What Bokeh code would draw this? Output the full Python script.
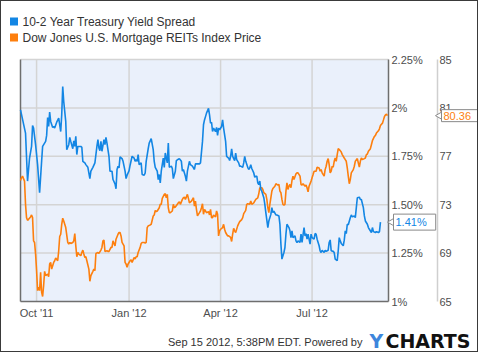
import math
import pandas as pd
from bokeh.plotting import figure
from bokeh.models import Range1d, Label
from bokeh.core.properties import value
from bokeh.embed import file_html
from bokeh.resources import INLINE

# ---------------- data ----------------
series_names = ["10-2 Year Treasury Yield Spread",
                "Dow Jones U.S. Mortgage REITs Index Price"]

spread_dates = [
    "2011-09-15", "2011-09-20", "2011-09-22", "2011-09-24", "2011-09-26", "2011-09-27", "2011-09-28", "2011-09-30",
    "2011-10-02", "2011-10-04", "2011-10-06", "2011-10-07", "2011-10-10", "2011-10-11", "2011-10-12", "2011-10-13",
    "2011-10-14", "2011-10-15", "2011-10-17", "2011-10-18", "2011-10-19", "2011-10-21", "2011-10-23", "2011-10-25",
    "2011-10-26", "2011-10-27", "2011-10-28", "2011-10-30", "2011-10-31", "2011-11-02", "2011-11-03", "2011-11-04",
    "2011-11-06", "2011-11-07", "2011-11-08", "2011-11-09", "2011-11-10", "2011-11-11", "2011-11-14", "2011-11-15",
    "2011-11-16", "2011-11-18", "2011-11-19", "2011-11-21", "2011-11-23", "2011-11-24", "2011-11-26", "2011-11-28",
    "2011-11-30", "2011-12-01", "2011-12-02", "2011-12-03", "2011-12-04", "2011-12-05", "2011-12-07", "2011-12-08",
    "2011-12-09", "2011-12-10", "2011-12-12", "2011-12-13", "2011-12-15", "2011-12-16", "2011-12-18", "2011-12-19",
    "2011-12-20", "2011-12-21", "2011-12-22", "2011-12-23", "2011-12-25", "2011-12-26", "2011-12-28", "2011-12-29",
    "2011-12-30", "2012-01-01", "2012-01-02", "2012-01-04", "2012-01-06", "2012-01-07", "2012-01-08", "2012-01-09",
    "2012-01-10", "2012-01-11", "2012-01-13", "2012-01-14", "2012-01-16", "2012-01-17", "2012-01-18", "2012-01-20",
    "2012-01-21", "2012-01-23", "2012-01-25", "2012-01-26", "2012-01-27", "2012-01-29", "2012-01-30", "2012-01-31",
    "2012-02-01", "2012-02-02", "2012-02-04", "2012-02-05", "2012-02-06", "2012-02-08", "2012-02-09", "2012-02-10",
    "2012-02-12", "2012-02-13", "2012-02-14", "2012-02-16", "2012-02-17", "2012-02-19", "2012-02-20", "2012-02-22",
    "2012-02-23", "2012-02-24", "2012-02-26", "2012-02-27", "2012-02-28", "2012-03-01", "2012-03-02", "2012-03-04",
    "2012-03-06", "2012-03-07", "2012-03-09", "2012-03-11", "2012-03-12", "2012-03-14", "2012-03-15", "2012-03-16",
    "2012-03-17", "2012-03-18", "2012-03-20", "2012-03-21", "2012-03-22", "2012-03-23", "2012-03-24", "2012-03-25",
    "2012-03-27", "2012-03-28", "2012-03-29", "2012-03-30", "2012-03-31", "2012-04-02", "2012-04-03", "2012-04-04",
    "2012-04-06", "2012-04-07", "2012-04-08", "2012-04-09", "2012-04-10", "2012-04-11", "2012-04-12", "2012-04-13",
    "2012-04-14", "2012-04-15", "2012-04-16", "2012-04-17", "2012-04-19", "2012-04-20", "2012-04-21", "2012-04-23",
    "2012-04-24", "2012-04-25", "2012-04-26", "2012-04-28", "2012-04-29", "2012-04-30", "2012-05-01", "2012-05-02",
    "2012-05-04", "2012-05-05", "2012-05-06", "2012-05-07", "2012-05-08", "2012-05-09", "2012-05-10", "2012-05-11",
    "2012-05-12", "2012-05-14", "2012-05-15", "2012-05-16", "2012-05-18", "2012-05-19", "2012-05-21", "2012-05-22",
    "2012-05-23", "2012-05-24", "2012-05-26", "2012-05-27", "2012-05-29", "2012-05-30", "2012-05-31", "2012-06-01",
    "2012-06-03", "2012-06-04", "2012-06-05", "2012-06-06", "2012-06-08", "2012-06-09", "2012-06-10", "2012-06-11",
    "2012-06-12", "2012-06-14", "2012-06-15", "2012-06-16", "2012-06-17", "2012-06-19", "2012-06-20", "2012-06-21",
    "2012-06-23", "2012-06-24", "2012-06-25", "2012-06-26", "2012-06-27", "2012-06-29", "2012-06-30", "2012-07-01",
    "2012-07-03", "2012-07-04", "2012-07-05", "2012-07-06", "2012-07-08", "2012-07-09", "2012-07-10", "2012-07-11",
    "2012-07-13", "2012-07-14", "2012-07-15", "2012-07-17", "2012-07-18", "2012-07-19", "2012-07-20", "2012-07-22",
    "2012-07-23", "2012-07-24", "2012-07-26", "2012-07-27", "2012-07-28", "2012-07-29", "2012-07-30", "2012-08-01",
    "2012-08-02", "2012-08-03", "2012-08-04", "2012-08-05", "2012-08-06", "2012-08-08", "2012-08-09", "2012-08-10",
    "2012-08-12", "2012-08-13", "2012-08-14", "2012-08-15", "2012-08-17", "2012-08-18", "2012-08-19", "2012-08-21",
    "2012-08-22", "2012-08-23", "2012-08-25", "2012-08-26", "2012-08-27", "2012-08-29", "2012-08-30", "2012-08-31",
    "2012-09-02", "2012-09-03", "2012-09-05", "2012-09-06", "2012-09-07",
]
spread_vals = [
    1.990, 1.870, 1.622, 1.741, 1.801, 1.909, 1.896, 1.810,
    1.707, 1.562, 1.724, 1.801, 1.827, 1.858, 1.950, 1.904,
    1.978, 1.930, 1.899, 1.904, 1.896, 1.926, 1.947, 1.878,
    1.964, 2.110, 2.033, 1.930, 1.784, 1.810, 1.848, 1.827,
    1.789, 1.830, 1.801, 1.853, 1.759, 1.801, 1.801, 1.796,
    1.724, 1.716, 1.707, 1.693, 1.635, 1.673, 1.693, 1.716,
    1.801, 1.836, 1.793, 1.779, 1.827, 1.776, 1.836, 1.810,
    1.848, 1.818, 1.750, 1.673, 1.673, 1.630, 1.608, 1.582,
    1.682, 1.699, 1.690, 1.747, 1.738, 1.724, 1.673, 1.635,
    1.652, 1.676, 1.704, 1.750, 1.741, 1.724, 1.733, 1.724,
    1.759, 1.707, 1.716, 1.656, 1.652, 1.664, 1.724, 1.789,
    1.818, 1.841, 1.784, 1.724, 1.693, 1.673, 1.630, 1.656,
    1.613, 1.673, 1.741, 1.693, 1.767, 1.716, 1.818, 1.693,
    1.699, 1.687, 1.635, 1.673, 1.728, 1.735, 1.738, 1.724,
    1.673, 1.682, 1.647, 1.622, 1.673, 1.724, 1.707, 1.699,
    1.682, 1.711, 1.711, 1.711, 1.716, 1.827, 1.913, 1.938,
    1.955, 1.973, 1.998, 1.964, 1.921, 1.926, 1.878, 1.896,
    1.878, 1.899, 1.858, 1.896, 1.887, 1.904, 1.938, 1.896,
    1.827, 1.750, 1.745, 1.741, 1.728, 1.750, 1.789, 1.750,
    1.738, 1.728, 1.767, 1.733, 1.716, 1.699, 1.699, 1.693,
    1.716, 1.750, 1.724, 1.693, 1.682, 1.690, 1.707, 1.687,
    1.664, 1.642, 1.647, 1.647, 1.613, 1.604, 1.622, 1.579,
    1.570, 1.536, 1.502, 1.459, 1.382, 1.416, 1.450, 1.485,
    1.459, 1.467, 1.447, 1.447, 1.442, 1.399, 1.296, 1.219,
    1.253, 1.279, 1.348, 1.399, 1.382, 1.365, 1.330, 1.365,
    1.330, 1.339, 1.313, 1.305, 1.313, 1.305, 1.348, 1.305,
    1.382, 1.339, 1.351, 1.322, 1.348, 1.296, 1.348, 1.330,
    1.322, 1.351, 1.348, 1.322, 1.288, 1.262, 1.253, 1.265,
    1.253, 1.265, 1.259, 1.265, 1.305, 1.318, 1.262, 1.259,
    1.253, 1.219, 1.211, 1.262, 1.330, 1.313, 1.300, 1.288,
    1.317, 1.365, 1.351, 1.399, 1.396, 1.433, 1.447, 1.437,
    1.442, 1.433, 1.485, 1.536, 1.539, 1.527, 1.527, 1.485,
    1.442, 1.416, 1.399, 1.382, 1.373, 1.356, 1.382, 1.361,
    1.356, 1.361, 1.356, 1.361, 1.41,
]

reit_dates = [
    "2011-09-15", "2011-09-16", "2011-09-17", "2011-09-19", "2011-09-20", "2011-09-21", "2011-09-22", "2011-09-23",
    "2011-09-25", "2011-09-26", "2011-09-27", "2011-09-28", "2011-09-29", "2011-09-30", "2011-10-01", "2011-10-02",
    "2011-10-03", "2011-10-04", "2011-10-05", "2011-10-06", "2011-10-07", "2011-10-08", "2011-10-09", "2011-10-10",
    "2011-10-12", "2011-10-13", "2011-10-14", "2011-10-15", "2011-10-16", "2011-10-18", "2011-10-19", "2011-10-20",
    "2011-10-22", "2011-10-23", "2011-10-24", "2011-10-25", "2011-10-26", "2011-10-27", "2011-10-28", "2011-10-29",
    "2011-10-30", "2011-11-01", "2011-11-02", "2011-11-03", "2011-11-04", "2011-11-06", "2011-11-07", "2011-11-08",
    "2011-11-09", "2011-11-10", "2011-11-11", "2011-11-12", "2011-11-14", "2011-11-15", "2011-11-16", "2011-11-17",
    "2011-11-18", "2011-11-19", "2011-11-20", "2011-11-22", "2011-11-23", "2011-11-24", "2011-11-26", "2011-11-27",
    "2011-11-28", "2011-11-29", "2011-12-01", "2011-12-02", "2011-12-04", "2011-12-05", "2011-12-06", "2011-12-07",
    "2011-12-08", "2011-12-10", "2011-12-11", "2011-12-12", "2011-12-14", "2011-12-15", "2011-12-16", "2011-12-17",
    "2011-12-18", "2011-12-19", "2011-12-21", "2011-12-22", "2011-12-23", "2011-12-24", "2011-12-25", "2011-12-27",
    "2011-12-28", "2011-12-29", "2011-12-30", "2011-12-31", "2012-01-02", "2012-01-03", "2012-01-04", "2012-01-06",
    "2012-01-07", "2012-01-08", "2012-01-09", "2012-01-10", "2012-01-12", "2012-01-13", "2012-01-14", "2012-01-16",
    "2012-01-17", "2012-01-18", "2012-01-19", "2012-01-20", "2012-01-22", "2012-01-23", "2012-01-25", "2012-01-26",
    "2012-01-27", "2012-01-28", "2012-01-29", "2012-01-31", "2012-02-01", "2012-02-02", "2012-02-03", "2012-02-05",
    "2012-02-06", "2012-02-07", "2012-02-08", "2012-02-09", "2012-02-10", "2012-02-11", "2012-02-13", "2012-02-14",
    "2012-02-15", "2012-02-16", "2012-02-18", "2012-02-19", "2012-02-20", "2012-02-21", "2012-02-23", "2012-02-24",
    "2012-02-25", "2012-02-26", "2012-02-28", "2012-02-29", "2012-03-01", "2012-03-03", "2012-03-04", "2012-03-05",
    "2012-03-06", "2012-03-07", "2012-03-08", "2012-03-09", "2012-03-11", "2012-03-12", "2012-03-13", "2012-03-14",
    "2012-03-15", "2012-03-16", "2012-03-17", "2012-03-18", "2012-03-20", "2012-03-21", "2012-03-22", "2012-03-23",
    "2012-03-24", "2012-03-25", "2012-03-27", "2012-03-28", "2012-03-29", "2012-03-30", "2012-03-31", "2012-04-01",
    "2012-04-03", "2012-04-04", "2012-04-05", "2012-04-06", "2012-04-07", "2012-04-08", "2012-04-09", "2012-04-11",
    "2012-04-12", "2012-04-13", "2012-04-14", "2012-04-15", "2012-04-16", "2012-04-18", "2012-04-19", "2012-04-20",
    "2012-04-22", "2012-04-23", "2012-04-24", "2012-04-26", "2012-04-27", "2012-04-28", "2012-04-30", "2012-05-01",
    "2012-05-02", "2012-05-04", "2012-05-05", "2012-05-06", "2012-05-08", "2012-05-09", "2012-05-10", "2012-05-12",
    "2012-05-13", "2012-05-14", "2012-05-16", "2012-05-17", "2012-05-18", "2012-05-19", "2012-05-20", "2012-05-21",
    "2012-05-22", "2012-05-23", "2012-05-25", "2012-05-26", "2012-05-28", "2012-05-29", "2012-05-30", "2012-05-31",
    "2012-06-01", "2012-06-02", "2012-06-03", "2012-06-04", "2012-06-05", "2012-06-06", "2012-06-07", "2012-06-08",
    "2012-06-09", "2012-06-10", "2012-06-11", "2012-06-12", "2012-06-13", "2012-06-15", "2012-06-16", "2012-06-17",
    "2012-06-19", "2012-06-20", "2012-06-21", "2012-06-22", "2012-06-24", "2012-06-25", "2012-06-26", "2012-06-27",
    "2012-06-28", "2012-06-30", "2012-07-01", "2012-07-02", "2012-07-03", "2012-07-05", "2012-07-06", "2012-07-08",
    "2012-07-09", "2012-07-10", "2012-07-11", "2012-07-13", "2012-07-14", "2012-07-15", "2012-07-16", "2012-07-17",
    "2012-07-18", "2012-07-19", "2012-07-20", "2012-07-21", "2012-07-22", "2012-07-23", "2012-07-24", "2012-07-25",
    "2012-07-26", "2012-07-27", "2012-07-29", "2012-07-30", "2012-07-31", "2012-08-02", "2012-08-03", "2012-08-04",
    "2012-08-05", "2012-08-06", "2012-08-07", "2012-08-08", "2012-08-09", "2012-08-11", "2012-08-12", "2012-08-13",
    "2012-08-15", "2012-08-16", "2012-08-17", "2012-08-18", "2012-08-19", "2012-08-20", "2012-08-22", "2012-08-23",
    "2012-08-24", "2012-08-25", "2012-08-26", "2012-08-28", "2012-08-29", "2012-08-30", "2012-09-01", "2012-09-02",
    "2012-09-03", "2012-09-05", "2012-09-06", "2012-09-07", "2012-09-09", "2012-09-10", "2012-09-11", "2012-09-12",
    "2012-09-13", "2012-09-14",
]
reit_vals = [
    75.00, 75.22, 75.36, 74.95, 73.03, 71.93, 71.71, 71.79,
    71.99, 72.15, 71.93, 70.01, 69.88, 68.92, 67.55, 65.90,
    66.18, 65.90, 67.41, 65.77, 65.41, 66.30, 67.49, 67.14,
    67.27, 67.05, 68.10, 68.23, 67.68, 68.23, 68.37, 68.59,
    68.37, 69.19, 70.37, 70.56, 71.38, 71.88, 71.66, 71.38,
    71.11, 69.88, 69.74, 69.88, 69.79, 69.88, 70.01, 70.62,
    69.60, 68.70, 69.05, 68.92, 68.78, 69.05, 69.25, 68.92,
    68.64, 68.70, 68.37, 67.68, 66.67, 67.14, 67.49, 67.68,
    67.55, 68.97, 69.05, 68.97, 69.25, 69.47, 70.01, 70.07,
    69.14, 69.19, 69.14, 69.14, 69.47, 69.47, 70.01, 69.79,
    69.60, 70.15, 70.56, 70.70, 70.70, 70.42, 69.88, 69.60,
    68.23, 68.10, 67.82, 68.10, 68.37, 68.45, 68.23, 68.64,
    68.51, 68.70, 68.70, 69.05, 69.47, 69.79, 69.88, 69.88,
    69.82, 69.88, 71.11, 71.25, 71.33, 71.38, 72.07, 72.15,
    72.53, 72.43, 72.48, 72.75, 73.03, 73.03, 73.52, 73.85,
    73.90, 73.57, 73.85, 72.75, 72.34, 72.34, 72.48, 73.03,
    72.75, 72.81, 73.03, 73.16, 73.25, 73.03, 73.44, 73.57,
    73.63, 73.44, 73.85, 73.52, 73.16, 73.30, 73.44, 73.57,
    72.89, 73.30, 72.62, 72.07, 72.34, 72.48, 72.75, 73.08,
    72.21, 72.62, 72.48, 72.34, 72.43, 72.15, 72.62, 71.93,
    71.93, 72.15, 71.99, 72.48, 72.21, 70.42, 70.84, 70.97,
    71.11, 71.38, 70.97, 70.70, 70.56, 70.42, 70.42, 70.29,
    69.96, 70.56, 71.05, 70.84, 70.70, 71.25, 71.44, 71.60,
    71.77, 71.93, 72.26, 72.53, 73.03, 73.08, 73.03, 73.30,
    73.03, 73.16, 73.30, 73.44, 73.57, 73.90, 74.40, 74.40,
    74.26, 73.99, 73.85, 73.44, 72.75, 72.34, 73.03, 73.57,
    74.12, 74.34, 74.53, 74.73, 74.62, 74.67, 74.12, 73.99,
    73.44, 73.03, 72.97, 73.03, 74.12, 74.81, 74.26, 74.53,
    74.67, 74.40, 75.00, 75.36, 75.08, 75.55, 75.63, 75.63,
    75.36, 74.67, 74.62, 74.73, 74.53, 74.62, 74.40, 74.07,
    74.53, 74.95, 75.22, 75.49, 75.77, 75.77, 76.10, 76.04,
    75.77, 75.90, 75.63, 75.36, 75.90, 76.18, 76.59, 76.81,
    76.31, 75.63, 75.77, 76.18, 76.10, 76.59, 76.86, 76.59,
    77.14, 77.63, 77.47, 77.36, 77.14, 76.86, 76.73, 76.59,
    76.04, 75.36, 74.73, 75.08, 75.63, 75.90, 76.18, 76.59,
    76.81, 76.45, 76.10, 76.59, 76.86, 76.73, 76.81, 76.86,
    77.14, 77.19, 77.41, 77.63, 77.96, 78.29, 78.64, 78.73,
    78.92, 79.11, 79.27, 79.55, 79.74, 80.01, 80.29, 80.42,
    80.48, 80.36,
]

x_window = ["2011-09-15", "2012-09-15"]
x_tick_dates = ["2011-10-01", "2012-01-01", "2012-04-01", "2012-07-01"]
x_tick_labels = ["Oct '11", "Jan '12", "Apr '12", "Jul '12"]
pct_ticks = [1.0, 1.25, 1.5, 1.75, 2.0, 2.25]
pct_tick_labels = ["1%", "1.25%", "1.50%", "1.75%", "2%", "2.25%"]
reit_ticks = [65, 69, 73, 77, 81, 85]
footer_text = "Sep 15 2012, 5:38PM EDT.  Powered by"
logo_parts = ["Y", "CHARTS"]

# ---------------- styling / layout (pixels) ----------------
BLUE = "#1386e4"
ORANGE = "#fd7f0e"
FONT = "Liberation Sans"
TICK_COLOR = "#4d4d4d"
W, H = 478, 352                      # canvas (a 1px CSS border surrounds it)
PLOT_L, PLOT_T, PLOT_W, PLOT_H = 19, 58, 368, 242   # plot area inside the canvas
PLOT_B = PLOT_T + PLOT_H


def to_ms(s):
    return float(pd.Timestamp(s).value // 10**6)


spread_x = [to_ms(d) for d in spread_dates]
reit_x = [to_ms(d) for d in reit_dates]
x_start, x_end = to_ms(x_window[0]), to_ms(x_window[1])
x_tick_ms = [to_ms(d) for d in x_tick_dates]
lo, hi = pct_ticks[0], pct_ticks[-1]

# data units per pixel, so that the plot area sits where it should on the canvas
px_x = (x_end - x_start) / PLOT_W
px_y = (hi - lo) / PLOT_H
px_r = (reit_ticks[-1] - reit_ticks[0]) / PLOT_H


def cx(px):
    """canvas x (pixels) -> x data"""
    return x_start + (px - PLOT_L) * px_x


def cy(py):
    """canvas y (pixels, from top) -> left-scale data"""
    return lo + (PLOT_B - py) * px_y


x_range = Range1d(cx(0), cx(W))
y_range = Range1d(cy(H), cy(0))

p = figure(width=W, height=H, x_range=x_range, y_range=y_range,
           x_axis_location=None, y_axis_location=None,
           output_backend="svg", toolbar_location=None,
           min_border_left=0, min_border_right=0, min_border_top=0, min_border_bottom=0,
           background_fill_color="white", border_fill_color="white",
           outline_line_color=None)
p.grid.visible = False
p.styles = {"border": "1px solid #3a3a3a"}
p.extra_y_ranges = {"reit": Range1d(reit_ticks[0] - (H - PLOT_B) * px_r,
                                    reit_ticks[-1] + PLOT_T * px_r)}

# plot-area background
p.quad(left=[x_start], right=[x_end], bottom=[lo], top=[hi],
       fill_color="#eaf0fb", line_color=None)

# grid lines
p.segment(x0=x_tick_ms, x1=x_tick_ms, y0=[lo] * len(x_tick_ms), y1=[hi] * len(x_tick_ms),
          line_color="#d4d4d4", line_width=1.5)
p.segment(x0=[x_start] * (len(pct_ticks) - 1), x1=[x_end] * (len(pct_ticks) - 1),
          y0=pct_ticks[1:], y1=pct_ticks[1:], line_color="#d4d4d4", line_width=1.5)

# axis lines (left, bottom, right of the plot area) and the second-scale line
p.segment(x0=[x_start, x_start, x_end], x1=[x_start, x_end, x_end],
          y0=[lo, lo, lo], y1=[hi, lo, hi], line_color="#6e6e6e", line_width=1.5)
reit_line_x = x_end + 49 * px_x
p.segment(x0=[reit_line_x], x1=[reit_line_x], y0=[lo], y1=[hi],
          line_color="#cfcfcf", line_width=1.5)

# series
p.line(reit_x, reit_vals, y_range_name="reit", line_color=ORANGE, line_width=1.6)
p.line(spread_x, spread_vals, line_color=BLUE, line_width=1.6)

# tick labels, placed through the scales
tick_font = dict(text_font=value(FONT), text_font_size="11px", text_color=TICK_COLOR,
                 text_baseline="middle")
p.text(x=x_tick_ms, y=[lo] * len(x_tick_ms), text=x_tick_labels, y_offset=11,
       text_align="center", **tick_font)
p.text(x=[x_end] * len(pct_ticks), y=pct_ticks, text=pct_tick_labels, x_offset=3,
       text_align="left", **tick_font)
p.text(x=[x_end] * len(reit_ticks), y=reit_ticks, y_range_name="reit",
       text=[str(t) for t in reit_ticks], x_offset=51, text_align="left", **tick_font)

# last-value tags (notch + box)
p.scatter(x=[x_end + 3 * px_x], y=[spread_vals[-1]], marker="triangle", angle=math.pi / 2,
          size=7, fill_color="white", line_color="#8a8a8a")
p.scatter(x=[x_end + 51 * px_x], y=[reit_vals[-1]], y_range_name="reit", marker="triangle",
          angle=math.pi / 2, size=7, fill_color="white", line_color="#8a8a8a")
p.add_layout(Label(x=x_end, y=spread_vals[-1], text=f"{spread_vals[-1]:.2f}%",
                   x_offset=5, text_align="left", text_baseline="middle",
                   text_font=FONT, text_font_size="11px", text_color=BLUE,
                   background_fill_color="white", border_line_color="#8a8a8a",
                   padding=dict(left=2, right=9, top=2, bottom=2)))
p.add_layout(Label(x=x_end, y=reit_vals[-1], y_range_name="reit", text=f"{reit_vals[-1]:.2f}",
                   x_offset=53, text_align="left", text_baseline="middle",
                   text_font=FONT, text_font_size="11px", text_color=ORANGE,
                   background_fill_color="white", border_line_color="#8a8a8a",
                   padding=dict(left=2, right=12, top=2, bottom=2)))

# series key: square swatches and names at the top left
key_rows = [cy(20), cy(36)]
p.scatter(x=[cx(12.5)] * 2, y=key_rows, marker="square", size=8,
          fill_color=[BLUE, ORANGE], line_color=None)
p.text(x=[cx(21)] * 2, y=key_rows, text=series_names, text_font=value(FONT),
       text_font_size="12px", text_color="#333333", text_baseline="middle", text_align="left")

# footer: timestamp and logo
foot_y = cy(340)
p.add_layout(Label(x=cx(364), y=foot_y, text=footer_text,
                   text_align="right", text_baseline="middle",
                   text_font=FONT, text_font_size="11px", text_color="#333333"))
p.add_layout(Label(x=cx(368), y=cy(339), text=logo_parts[0],
                   text_align="left", text_baseline="middle", text_font="DejaVu Sans",
                   text_font_style="bold", text_font_size="19px", text_color="#3d86dc"))
p.add_layout(Label(x=cx(384), y=cy(339), text=logo_parts[1],
                   text_align="left", text_baseline="middle", text_font="DejaVu Sans",
                   text_font_style="bold", text_font_size="19px", text_color="#111111"))

open("out.html", "w").write(file_html(p, INLINE))
